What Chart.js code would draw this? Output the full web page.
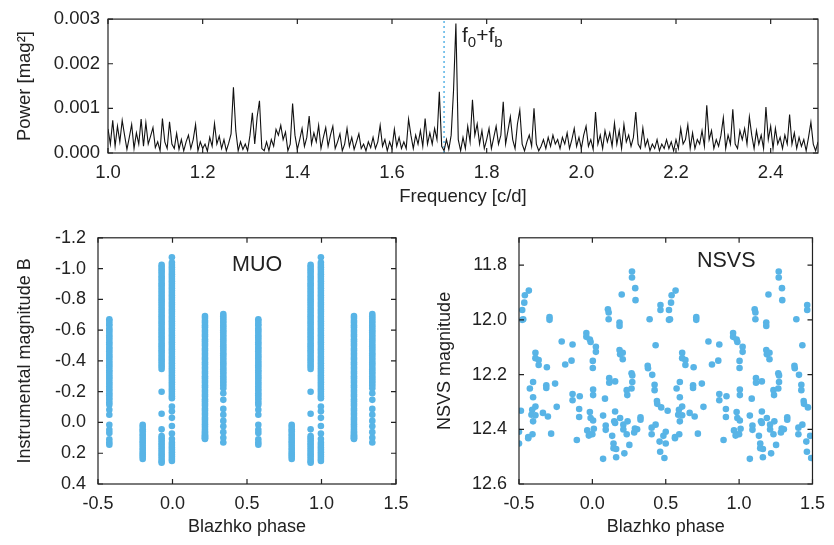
<!DOCTYPE html>
<html>
<head>
<meta charset="utf-8">
<script src="https://cdn.jsdelivr.net/npm/chart.js@4.4.1/dist/chart.umd.min.js"></script>
<style>
    body { margin: 0; background: #fff; }
    #wrap { position: relative; width: 834px; height: 545px; font-family: "Liberation Sans", Arial, sans-serif; color: #222; }
    canvas { position: absolute; }
    .lbl { position: absolute; font-size: 21.5px; line-height: 21px; white-space: nowrap; }
    .lbl sub { font-size: 15px; vertical-align: -5px; line-height: 0; }
</style>
</head>
<body>
<div id="wrap">
    <canvas id="power" width="834" height="215" style="left:0;top:0"></canvas>
    <canvas id="muo" width="420" height="330" style="left:0;top:215px"></canvas>
    <canvas id="nsvs" width="414" height="330" style="left:420px;top:215px"></canvas>
    <div class="lbl" style="left:462px;top:24px;font-size:21px">f<sub>0</sub>+f<sub>b</sub></div>
    <div class="lbl" style="left:232px;top:254px">MUO</div>
    <div class="lbl" style="left:697px;top:250px">NSVS</div>
</div>
<script>
//Periodogramme : puissance en 1e-4 mag^2, pas de 0.005 c/d depuis 1.0
const freqStart = 1.0;
const freqStep = 0.005;
const power = [
    5.4,2,7.3,1.5,6,2.5,7.3,4,0.8,3.5,
    6.4,1,4.5,2,7.6,1.5,6.8,2,3.8,5.7,
    1.2,2.5,0.5,7.7,2.5,1,7,2,1,4.4,
    0.8,3,0.5,2.5,4,1,3,6.4,0.5,2.5,
    1,2,0.4,3.5,1.5,6.6,2,3.8,1,3,
    0.5,2.2,4.3,14.7,5,0.5,2.5,0.8,2,0.5,
    4,9,2,8,11.7,1,0.5,2.5,0.5,3,
    1.5,5.3,4,6.2,3,4.7,0.5,2,11.1,4,
    0.8,3,5.5,1.5,3.5,8.3,2,4.5,2.5,6.2,
    1,3.5,5.7,1.5,4,6,1,2.5,4.3,0.5,
    2,5.5,1.5,3.5,0.8,2.5,4.3,1,2,0.5,
    2.5,1.2,3.5,1,2.5,6.2,1.5,3,0.5,2.5,
    1,5.3,1.5,3.5,1,2.5,1,7.6,4,1,
    4,2,5,1.5,7.7,2,4.5,2,5.5,3,
    13.7,1.5,0.5,3,0.8,4,14,29,3,0.5,
    3.5,1,6,2.5,11.9,4,6.5,2,5,1,
    3,5.5,1,3.5,6,2,4,11.5,2,5,
    8.1,3,1,6.5,9.6,2,0.5,2.5,4,1.5,
    10,2,0.5,1.5,3,1,3.5,1.5,4,2,
    3,1,3.5,2,4.5,1,3,5.5,1.5,3.5,
    1,4,6,1.5,3,0.8,9.2,2,4,1,
    5,2.5,4.5,1.5,6.7,2,5,1,6.4,2.5,
    4,1.5,3.5,9.2,2,1,5.6,1.5,3,0.5,
    2,1,3,0.5,2,1,3,1,2.5,0.5,
    3,1,5.5,2,3,6.3,1,4.5,1,3,
    2,5,1.5,10.7,3,5,1,3,1.5,4,
    7.9,1,4,2,9.8,2,1,5,3,5.5,
    2,8.1,4,1,5,2,4,1,10.3,3,
    6,1,5.5,2,3.5,1,4,2,8.6,2,
    4.5,1,3.5,1.5,3,0.5,3.5,6.9,2,0.5,2.5
];
const markFreq = 1.71; //f0+fb (ligne pointillée)
const freqTicks = [1.0, 1.2, 1.4, 1.6, 1.8, 2.0, 2.2, 2.4];
const powerTicks = [0, 10, 20, 30];

//MUO : une colonne par nuit, phase de Blazhko + magnitudes
const muoPhase = [0.218, 0.341, 0.576, 0.800, 0.927, 0.996];
const muoMag = [
    [-0.692,-0.678,-0.661,-0.648,-0.631,-0.618,-0.601,-0.588,-0.571,-0.558,-0.541,-0.528,-0.511,-0.498,-0.481,-0.468,-0.451,-0.438,-0.421,-0.408,-0.391,-0.378,-0.361,-0.348,-0.331,-0.318,-0.301,-0.288,-0.271,-0.258,-0.241,-0.228,-0.211,-0.198,-0.181,-0.168,-0.151,-0.138,-0.121,-0.108,-0.091,-0.078,-0.061,-0.048,-0.031,-0.018,-0.003,0.012,0.027,0.042,0.056,0.066,0.075,0.083,0.09,0.097,0.103,0.108],
    [-0.705,-0.69,-0.676,-0.66,-0.646,-0.63,-0.616,-0.6,-0.586,-0.57,-0.556,-0.54,-0.526,-0.51,-0.496,-0.48,-0.466,-0.45,-0.436,-0.42,-0.406,-0.39,-0.376,-0.36,-0.346,-0.33,-0.316,-0.3,-0.286,-0.27,-0.256,-0.24,-0.222,-0.19,-0.147,-0.088,-0.05,-0.01,0.025,0.063,0.1,0.13],
    [-0.67,-0.66,-0.642,-0.63,-0.611,-0.598,-0.583,-0.566,-0.552,-0.537,-0.521,-0.508,-0.49,-0.477,-0.463,-0.446,-0.432,-0.418,-0.401,-0.386,-0.371,-0.357,-0.34,-0.327,-0.31,-0.296,-0.282,-0.265,-0.251,-0.236,-0.219,-0.206,-0.19,-0.176,-0.161,-0.147,-0.13,-0.115,-0.083,-0.05,0.015,0.047,0.068,0.11,0.13,0.145],
    [0.015,0.028,0.044,0.058,0.075,0.088,0.104,0.121,0.133,0.149,0.166,0.179,0.195,0.208,0.222,0.237],
    [-1.024,-1.01,-0.995,-0.981,-0.966,-0.95,-0.936,-0.921,-0.905,-0.891,-0.876,-0.86,-0.846,-0.83,-0.816,-0.801,-0.786,-0.771,-0.756,-0.74,-0.726,-0.711,-0.695,-0.681,-0.665,-0.651,-0.636,-0.62,-0.606,-0.59,-0.576,-0.561,-0.545,-0.531,-0.515,-0.5,-0.486,-0.47,-0.456,-0.44,-0.426,-0.41,-0.396,-0.38,-0.365,-0.348,-0.2,-0.057,0.045,0.088,0.102,0.118,0.133,0.147,0.162,0.177,0.192,0.207,0.222,0.238,0.252,0.262],
    [-1.074,-1.039,-1.024,-1.009,-0.994,-0.978,-0.963,-0.948,-0.933,-0.917,-0.902,-0.887,-0.872,-0.856,-0.841,-0.826,-0.811,-0.795,-0.78,-0.765,-0.75,-0.734,-0.719,-0.704,-0.689,-0.673,-0.658,-0.643,-0.628,-0.612,-0.597,-0.582,-0.567,-0.551,-0.536,-0.521,-0.506,-0.49,-0.475,-0.46,-0.445,-0.429,-0.414,-0.399,-0.384,-0.368,-0.353,-0.338,-0.323,-0.307,-0.292,-0.277,-0.262,-0.246,-0.231,-0.216,-0.201,-0.185,-0.17,-0.157,-0.104,-0.072,-0.03,0.023,0.072,0.108,0.132,0.147,0.162,0.178,0.193,0.208,0.223,0.238,0.25]
];

//NSVS : un cycle de Blazhko (repliée ensuite sur -0.5..1.5)
const nsvsPhase = [
    -0.487,-0.500,-0.500,-0.478,-0.471,-0.478,-0.464,-0.460,-0.433,-0.388,
    -0.388,-0.366,-0.366,-0.426,-0.404,-0.404,-0.410,-0.388,-0.415,-0.388,
    -0.404,-0.408,-0.437,-0.437,-0.310,-0.314,-0.314,-0.337,-0.303,-0.292,
    -0.292,-0.281,-0.254,-0.243,-0.209,-0.185,-0.135,-0.142,-0.135,-0.135,
    -0.086,-0.106,-0.090,-0.090,-0.041,-0.041,-0.017,-0.012,0.024,0.024,
    0.003,0.003,0.005,0.005,-0.017,-0.012,0.005,0.010,-0.035,-0.017,
    0.000,-0.024,0.073,0.086,0.091,0.091,0.073,0.106,0.111,0.111,
    0.115,0.115,0.135,0.155,0.149,0.155,0.144,0.144,0.162,0.162,
    0.185,0.185,0.185,0.189,0.207,0.207,0.155,0.189,0.200,0.211,
    0.211,0.234,0.240,0.234,0.238,0.252,0.218,0.270,0.270,0.292,
    0.294,0.267,0.272,0.272,0.267,0.290,0.285,0.305,0.328,0.328,
    0.390,0.377,0.379,0.408,0.424,0.424,0.431,0.440,0.442,0.469,
    0.464,0.464,0.404,0.404,0.431,0.458,0.484,0.462,0.491
];
const nsvsMag = [
    12.332,12.409,12.452,11.964,11.998,12.000,11.937,11.910,11.893,12.120,
    12.140,12.147,12.165,12.251,12.227,12.283,12.329,12.317,12.347,12.349,
    12.371,12.418,12.428,12.433,12.173,12.239,12.249,12.340,12.353,11.990,
    12.000,12.416,12.233,12.318,12.079,12.163,12.090,12.149,12.271,12.294,
    12.279,12.439,12.326,12.355,12.048,12.062,12.072,12.081,12.098,12.117,
    12.150,12.176,12.255,12.275,12.337,12.359,12.368,12.398,12.404,12.418,
    12.418,12.423,12.350,12.288,12.386,12.402,12.508,11.961,11.973,11.998,
    12.213,12.230,12.424,12.335,12.371,12.377,12.452,12.469,12.472,12.502,
    12.010,12.022,12.110,12.126,12.120,12.144,12.225,12.359,11.907,12.383,
    12.401,12.418,12.371,12.257,12.275,12.457,12.488,11.823,11.845,11.884,
    11.928,12.195,12.203,12.227,12.251,12.397,12.412,12.400,12.356,12.365,
    11.998,12.168,12.177,12.201,12.237,12.257,12.093,12.297,12.307,12.320,
    11.946,11.964,12.394,12.418,12.383,12.445,12.424,12.482,12.505
];
const phaseTicks = [-0.5, 0.0, 0.5, 1.0, 1.5];
const muoTicks = [-1.2, -1.0, -0.8, -0.6, -0.4, -0.2, 0.0, 0.2, 0.4];
const nsvsTicks = [11.8, 12.0, 12.2, 12.4, 12.6];

const BLUE = '#58b4e6';
const INK = '#222';

Chart.defaults.font.family = '"Liberation Sans", Arial, sans-serif';
Chart.defaults.font.size = 18;
Chart.defaults.color = INK;
Chart.defaults.animation = false;

//Cadre + graduations vers l'intérieur sur les 4 côtés
const boxTicks = {
    id: 'boxTicks',
    afterDraw(chart) {
        const { ctx, chartArea: a, scales } = chart;
        const len = 5;
        ctx.save();
        ctx.strokeStyle = INK;
        ctx.lineWidth = 1.2;
        ctx.strokeRect(a.left, a.top, a.right - a.left, a.bottom - a.top);
        ctx.beginPath();
        scales.x.ticks.forEach(t => {
            const px = scales.x.getPixelForValue(t.value);
            ctx.moveTo(px, a.bottom); ctx.lineTo(px, a.bottom - len);
            ctx.moveTo(px, a.top); ctx.lineTo(px, a.top + len);
        });
        scales.y.ticks.forEach(t => {
            const py = scales.y.getPixelForValue(t.value);
            ctx.moveTo(a.left, py); ctx.lineTo(a.left + len, py);
            ctx.moveTo(a.right, py); ctx.lineTo(a.right - len, py);
        });
        ctx.stroke();
        ctx.restore();
    }
};

//Ligne pointillée à f0+fb
const markLine = {
    id: 'markLine',
    beforeDatasetsDraw(chart) {
        const { ctx, chartArea: a, scales } = chart;
        const px = scales.x.getPixelForValue(markFreq);
        ctx.save();
        ctx.strokeStyle = BLUE;
        ctx.lineWidth = 1.5;
        ctx.setLineDash([2, 3]);
        ctx.beginPath();
        ctx.moveTo(px, a.bottom);
        ctx.lineTo(px, a.top);
        ctx.stroke();
        ctx.restore();
    }
};

function fixedTicks(list) {
    return scale => { scale.ticks = list.map(v => ({ value: v })); };
}

function axisX(min, max, list, height, title, fmt, size) {
    return {
        type: 'linear', min: min, max: max,
        afterBuildTicks: fixedTicks(list),
        afterFit: s => { s.height = height; },
        grid: { display: false, drawTicks: false },
        border: { display: false },
        ticks: { padding: 9, maxRotation: 0, autoSkip: false, callback: fmt, font: { size: size } },
        title: { display: true, text: title, font: { size: size }, padding: { top: 0, bottom: 7 } }
    };
}

function axisY(min, max, list, width, title, fmt, reverse, pad, size) {
    return {
        type: 'linear', min: min, max: max, reverse: reverse,
        afterBuildTicks: fixedTicks(list),
        afterFit: s => { s.width = width; },
        grid: { display: false, drawTicks: false },
        border: { display: false },
        ticks: { padding: pad, autoSkip: false, callback: fmt, font: { size: size } },
        title: { display: true, text: title, font: { size: size }, padding: { top: 14, bottom: 0 } }
    };
}

const fmt1 = v => v.toFixed(1);

//Graphique périodogramme
const powerPoints = power.map((p, i) => ({ x: freqStart + i * freqStep, y: p }));
new Chart(document.getElementById('power'), {
    type: 'line',
    data: {
        datasets: [{
            data: powerPoints,
            borderColor: '#111',
            borderWidth: 1.1,
            pointRadius: 0,
            tension: 0,
            fill: false
        }]
    },
    options: {
        responsive: false,
        layout: { padding: { left: 0, right: 16, top: 13, bottom: 0 } },
        plugins: { legend: { display: false }, tooltip: { enabled: false } },
        scales: {
            x: axisX(1.0, 2.5, freqTicks, 62, 'Frequency [c/d]', fmt1, 18.5),
            y: axisY(0, 30, powerTicks, 108, 'Power [mag²]', v => (v / 10000).toFixed(3), false, 8, 18.5)
        }
    },
    plugins: [markLine, boxTicks]
});

//Repliement sur -0.5..1.5
function fold(phases, mags) {
    const pts = [];
    phases.forEach((p, i) => {
        [-1, 0, 1].forEach(k => {
            const q = p + k;
            if (q >= -0.5 && q <= 1.5) pts.push({ x: q, y: mags[i] });
        });
    });
    return pts;
}

const muoPoints = [];
muoPhase.forEach((p, c) => {
    muoPoints.push(...fold(muoMag[c].map(() => p), muoMag[c]));
});
const nsvsPoints = fold(nsvsPhase, nsvsMag);

function scatterChart(id, points, yMin, yMax, yTicks, yWidth, yTitle, right) {
    return new Chart(document.getElementById(id), {
        type: 'scatter',
        data: {
            datasets: [{
                data: points,
                pointRadius: 3.3,
                pointBackgroundColor: BLUE,
                pointBorderWidth: 0
            }]
        },
        options: {
            responsive: false,
            layout: { padding: { left: 0, right: right, top: 18, bottom: 0 } },
            plugins: { legend: { display: false }, tooltip: { enabled: false } },
            scales: {
                x: axisX(-0.5, 1.5, phaseTicks, 61, 'Blazhko phase', fmt1, 18),
                y: axisY(yMin, yMax, yTicks, yWidth, yTitle, fmt1, true, 12, 18)
            }
        },
        plugins: [boxTicks]
    });
}

scatterChart('muo', muoPoints, -1.2, 0.4, muoTicks, 98, 'Instrumental magnitude B', 24);
scatterChart('nsvs', nsvsPoints, 11.7, 12.6, nsvsTicks, 99, 'NSVS magnitude', 17);
</script>
</body>
</html>
